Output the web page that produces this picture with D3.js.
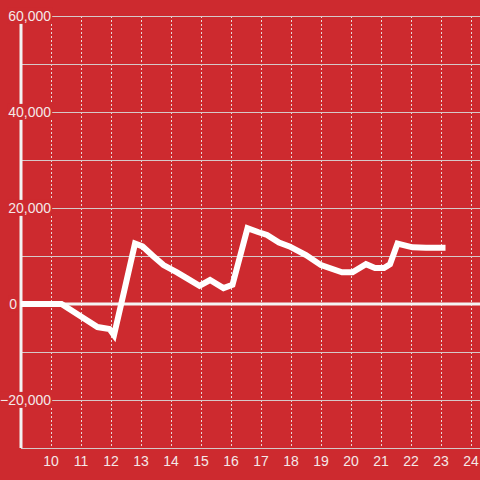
<!DOCTYPE html>
<html>
<head>
<meta charset="utf-8">
<script src="https://cdn.jsdelivr.net/npm/d3@7"></script>
<style>
  body { margin: 0; background: #cd2a2f; }
  svg { display: block; font-family: "Liberation Sans", Arial, sans-serif; }
</style>
</head>
<body>
<svg id="chart" width="480" height="480"></svg>
<script>
// data
var xs = [9, 10.35, 11.0, 11.55, 11.95, 12.1, 12.45, 12.8, 13.05, 13.4, 13.75, 14.2, 14.55, 14.95, 15.3, 15.75, 16.05, 16.55, 16.9, 17.2, 17.6, 17.95, 18.5, 19.0, 19.7, 20.05, 20.5, 20.8, 21.1, 21.3, 21.55, 22.05, 22.5, 23.15];
var ys = [0, 0, -2600, -4800, -5200, -6500, 3000, 12600, 12000, 10000, 8100, 6600, 5300, 3800, 5000, 3300, 4000, 15800, 15000, 14400, 12800, 12000, 10200, 8100, 6600, 6600, 8300, 7500, 7500, 8300, 12600, 11800, 11700, 11700];
var yTicks = [60000, 40000, 20000, 0, -20000];
var yGrid = [60000, 50000, 40000, 30000, 20000, 10000, -10000, -20000, -30000];
var xTicks = [10, 11, 12, 13, 14, 15, 16, 17, 18, 19, 20, 21, 22, 23, 24];

var svg = d3.select("#chart");
var W = 480, H = 480;
var padL = 21, padT = 16, padB = 448;

var x = d3.scaleLinear().domain([9, 24.3]).range([padL, W]);
var y = d3.scaleLinear().domain([-30000, 60000]).range([padB, padT]);

svg.append("rect").attr("width", W).attr("height", H).attr("fill", "#cd2a2f");

// vertical dashed grid
svg.append("g").selectAll("line").data(xTicks)
  .enter().append("line")
  .attr("x1", function(d) { return Math.round(x(d)) + 0.5; })
  .attr("x2", function(d) { return Math.round(x(d)) + 0.5; })
  .attr("y1", padT).attr("y2", padB)
  .attr("stroke", "#e8d8d8")
  .attr("stroke-width", 1)
  .attr("stroke-dasharray", "2,2");

// horizontal grid
svg.append("g").selectAll("line").data(yGrid)
  .enter().append("line")
  .attr("x1", padL).attr("x2", W)
  .attr("y1", function(d) { return Math.round(y(d)) + 0.5; })
  .attr("y2", function(d) { return Math.round(y(d)) + 0.5; })
  .attr("stroke", "#d6c8c8")
  .attr("stroke-width", 1);

// left axis bar
svg.append("line")
  .attr("x1", padL).attr("x2", padL)
  .attr("y1", padT).attr("y2", padB)
  .attr("stroke", "#f2f2f2")
  .attr("stroke-width", 3);

// zero line
svg.append("line")
  .attr("x1", padL).attr("x2", W)
  .attr("y1", y(0)).attr("y2", y(0))
  .attr("stroke", "#f4f4f4")
  .attr("stroke-width", 3);

// data line
var line = d3.line()
  .x(function(d, i) { return x(xs[i]); })
  .y(function(d) { return y(d); });

svg.append("path")
  .datum(ys)
  .attr("d", line)
  .attr("fill", "none")
  .attr("stroke", "#ffffff")
  .attr("stroke-width", 6)
  .attr("stroke-linejoin", "miter");

// y labels with red backing
var yl = svg.append("g").selectAll("g").data(yTicks)
  .enter().append("g");

yl.append("text")
  .attr("x", function(d) { return d === 0 ? 17 : 51; })
  .attr("y", function(d) { return y(d); })
  .attr("dy", "0.35em")
  .attr("text-anchor", "end")
  .attr("font-size", 14)
  .attr("fill", "#f4e8e8")
  .text(function(d) { return d3.format(",")(d); })
  .each(function() {
    var b = this.getBBox();
    d3.select(this.parentNode).insert("rect", "text")
      .attr("x", b.x - 1).attr("y", b.y)
      .attr("width", b.width + 2).attr("height", b.height)
      .attr("fill", "#cd2a2f");
  });

// x labels
svg.append("g").selectAll("text").data(xTicks)
  .enter().append("text")
  .attr("x", function(d) { return x(d); })
  .attr("y", 461)
  .attr("dy", "0.35em")
  .attr("text-anchor", "middle")
  .attr("font-size", 14)
  .attr("fill", "#f4e8e8")
  .text(function(d) { return d; });
</script>
</body>
</html>
